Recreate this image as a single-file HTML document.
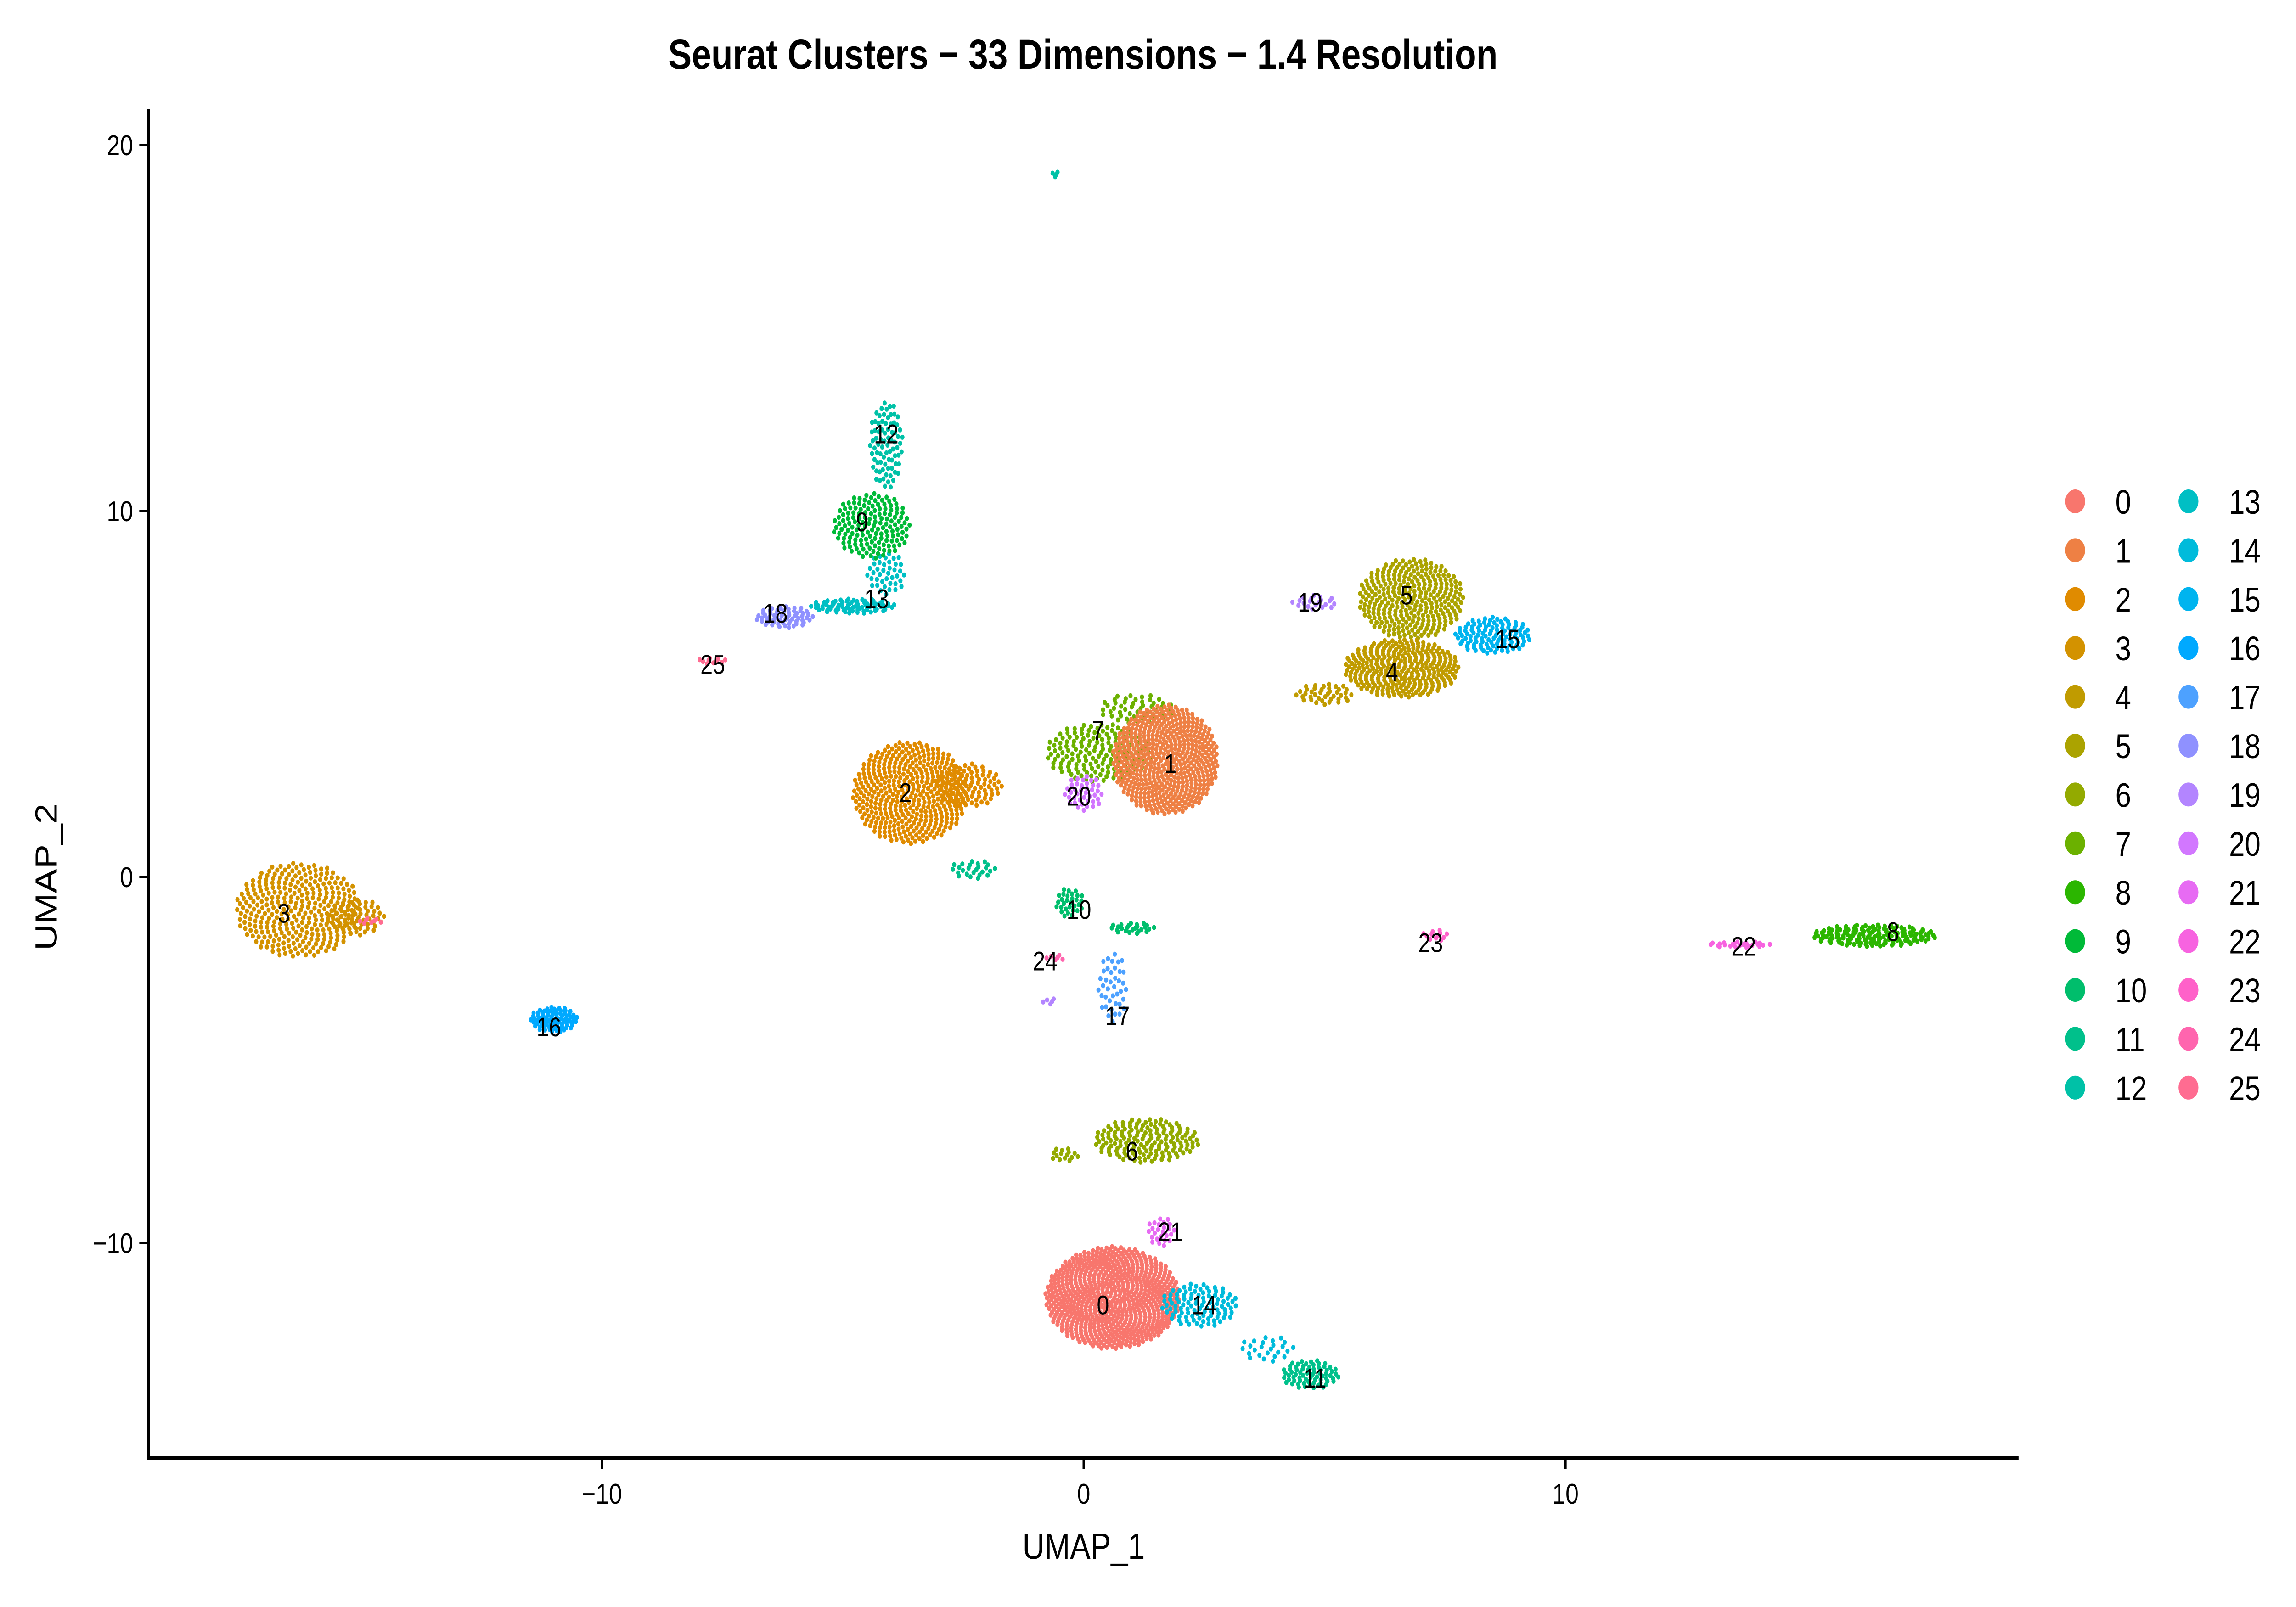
<!DOCTYPE html>
<html><head><meta charset="utf-8"><style>
html,body{margin:0;padding:0;background:#fff;width:100%;height:100%;overflow:hidden;}
svg{display:block;width:100vw;height:100vh;font-family:"Liberation Sans",Arial,sans-serif;}
</style></head><body>
<svg id="chart" viewBox="0 0 6000 3500" preserveAspectRatio="none">
<rect width="6000" height="3500" fill="#fff"/>
<text x="2830" y="150" font-size="92" font-weight="bold" text-anchor="middle">Seurat Clusters − 33 Dimensions − 1.4 Resolution</text>
<g id="points"></g>
<g id="labels"></g>
<g id="axes"></g>
<g id="legend"></g>
<text x="2832" y="3395" font-size="80" text-anchor="middle">UMAP_1</text>
<text transform="translate(148,1910) rotate(-90)" font-size="80" text-anchor="middle">UMAP_2</text>
</svg>
<script>
const clusterIds = ["0","1","2","3","4","5","6","7","8","9","10","11","12","13","14","15","16","17","18","19","20","21","22","23","24","25"];
const clusterColors = ["#F8766D","#EE8044","#E08B00","#D39200","#C09B00","#ABA300","#93AA00","#6BB100","#2BB600","#00BA38","#00BE6C","#00C08B","#00C1A7","#00BFC4","#00BBDB","#00B4EF","#00A9FF","#4DA1FF","#8F91FF","#B385FF","#D277FF","#E76BF3","#F763E0","#FF61C9","#FF65AE","#FF6C91"];
// blobs: cluster, cx, cy, rx, ry, count (data units)
const blobCluster = [3,3,25,16,25,18,13,13,9,12,12,2,2,11,7,7,1,20,10,10,24,19,17,6,6,21,0,14,14,11,19,5,4,4,15,23,22,8];
const blobCx = [-16.3,-15.1,-14.8,-11.0,-7.7,-6.2,-4.8,-4.1,-4.4,-4.1,-0.6,-3.6,-2.4,-2.3,0.3,1.1,1.7,0.0,-0.3,1.0,-0.6,-0.7,0.6,1.3,-0.4,1.6,0.6,2.4,3.8,4.7,4.8,6.8,6.6,5.0,8.5,7.3,13.6,16.4];
const blobCy = [-0.9,-1.1,-1.2,-3.9,5.9,7.1,7.4,8.3,9.6,11.8,19.2,2.3,2.5,0.2,3.4,4.6,3.2,2.3,-0.7,-1.4,-2.2,-3.4,-3.0,-7.2,-7.6,-9.7,-11.5,-11.7,-12.9,-13.6,7.5,7.6,5.7,5.0,6.6,-1.6,-1.85,-1.6];
const blobRx = [1.3,0.6,0.3,0.5,0.3,0.6,0.9,0.4,0.8,0.35,0.1,1.2,0.7,0.5,1.1,0.8,1.1,0.4,0.3,0.5,0.2,0.15,0.3,1.1,0.3,0.3,1.4,0.8,0.6,0.6,0.5,1.1,1.2,0.6,0.8,0.3,0.7,1.3];
const blobRy = [1.3,0.5,0.08,0.35,0.1,0.3,0.2,0.6,0.9,1.2,0.08,1.4,0.6,0.25,0.8,0.4,1.5,0.5,0.4,0.15,0.1,0.1,1.0,0.6,0.2,0.4,1.4,0.6,0.35,0.4,0.2,1.1,0.8,0.3,0.5,0.15,0.08,0.3];
const blobN = [320,60,8,80,10,60,80,40,150,80,4,420,90,25,160,50,520,40,30,25,6,5,40,160,15,25,720,100,25,70,20,300,300,40,110,12,25,160];
const labelX = [0.4,1.8,-3.7,-16.6,6.4,6.7,1.0,0.3,16.8,-4.6,-0.1,4.8,-4.1,-4.3,2.5,8.8,-11.1,0.7,-6.4,4.7,-0.1,1.8,13.7,7.2,-0.8,-7.7];
const labelY = [-11.7,3.1,2.3,-1.0,5.6,7.7,-7.5,4.0,-1.5,9.7,-0.9,-13.7,12.1,7.6,-11.7,6.5,-4.1,-3.8,7.2,7.5,2.2,-9.7,-1.9,-1.8,-2.3,5.8];
const xTicks = [-10,0,10];
const yTicks = [-10,0,10,20];

const NS="http://www.w3.org/2000/svg";
const X0=2832, XS=125.9, Y0=1910, YS=79.7;
function sx(v){return X0+v*XS;}
function sy(v){return Y0-v*YS;}
const pts=document.getElementById('points');
for(let b=0;b<blobCluster.length;b++){
  const n=blobN[b];
  for(let i=0;i<n;i++){
    const r=Math.sqrt((i+0.5)/n), t=i*2.39996;
    const c=document.createElementNS(NS,'circle');
    c.setAttribute('cx',sx(blobCx[b]+blobRx[b]*r*Math.cos(t)).toFixed(1));
    c.setAttribute('cy',sy(blobCy[b]+blobRy[b]*r*Math.sin(t)).toFixed(1));
    c.setAttribute('r','5.5');
    c.setAttribute('fill',clusterColors[blobCluster[b]]);
    
    
    pts.appendChild(c);
  }
}
const lab=document.getElementById('labels');
for(let k=0;k<clusterIds.length;k++){
  const t=document.createElementNS(NS,'text');
  t.setAttribute('x',sx(labelX[k]));t.setAttribute('y',sy(labelY[k])+20);
  t.setAttribute('font-size','58');t.setAttribute('text-anchor','middle');
  t.textContent=clusterIds[k];
  
  
  lab.appendChild(t);
}
const ax=document.getElementById('axes');
function line(x1,y1,x2,y2,w,name){const l=document.createElementNS(NS,'line');l.setAttribute('x1',x1);l.setAttribute('y1',y1);l.setAttribute('x2',x2);l.setAttribute('y2',y2);l.setAttribute('stroke','#000');l.setAttribute('stroke-width',w);


ax.appendChild(l);}
line(388,238,388,3179,8,'y-axis-line');
line(384,3176,5275,3176,8,'x-axis-line');
xTicks.forEach(v=>{line(sx(v),3176,sx(v),3200,6,'x-tick');
 const t=document.createElementNS(NS,'text');t.setAttribute('x',sx(v));t.setAttribute('y',3275);t.setAttribute('font-size','62');t.setAttribute('text-anchor','middle');t.textContent=v<0?'−'+(-v):v;
 
 
 ax.appendChild(t);});
yTicks.forEach(v=>{line(364,sy(v),388,sy(v),6,'y-tick');
 const t=document.createElementNS(NS,'text');t.setAttribute('x',348);t.setAttribute('y',sy(v)+22);t.setAttribute('font-size','62');t.setAttribute('text-anchor','end');t.textContent=v<0?'−'+(-v):v;
 
 
 ax.appendChild(t);});
const lg=document.getElementById('legend');
for(let k=0;k<clusterIds.length;k++){
  const col=Math.floor(k/13), row=k%13;
  const g=document.createElementNS(NS,'g');
  
  
  const cx=col?5719:5423, ty=1092+row*106.4;
  const c=document.createElementNS(NS,'circle');c.setAttribute('cx',cx);c.setAttribute('cy',ty);c.setAttribute('r',26);c.setAttribute('fill',clusterColors[k]);
  
  
  const t=document.createElementNS(NS,'text');t.setAttribute('x',col?5825:5528);t.setAttribute('y',ty+27);t.setAttribute('font-size','74');t.textContent=clusterIds[k];
  
  
  g.appendChild(c);g.appendChild(t);lg.appendChild(g);
}
</script>
</body></html>
